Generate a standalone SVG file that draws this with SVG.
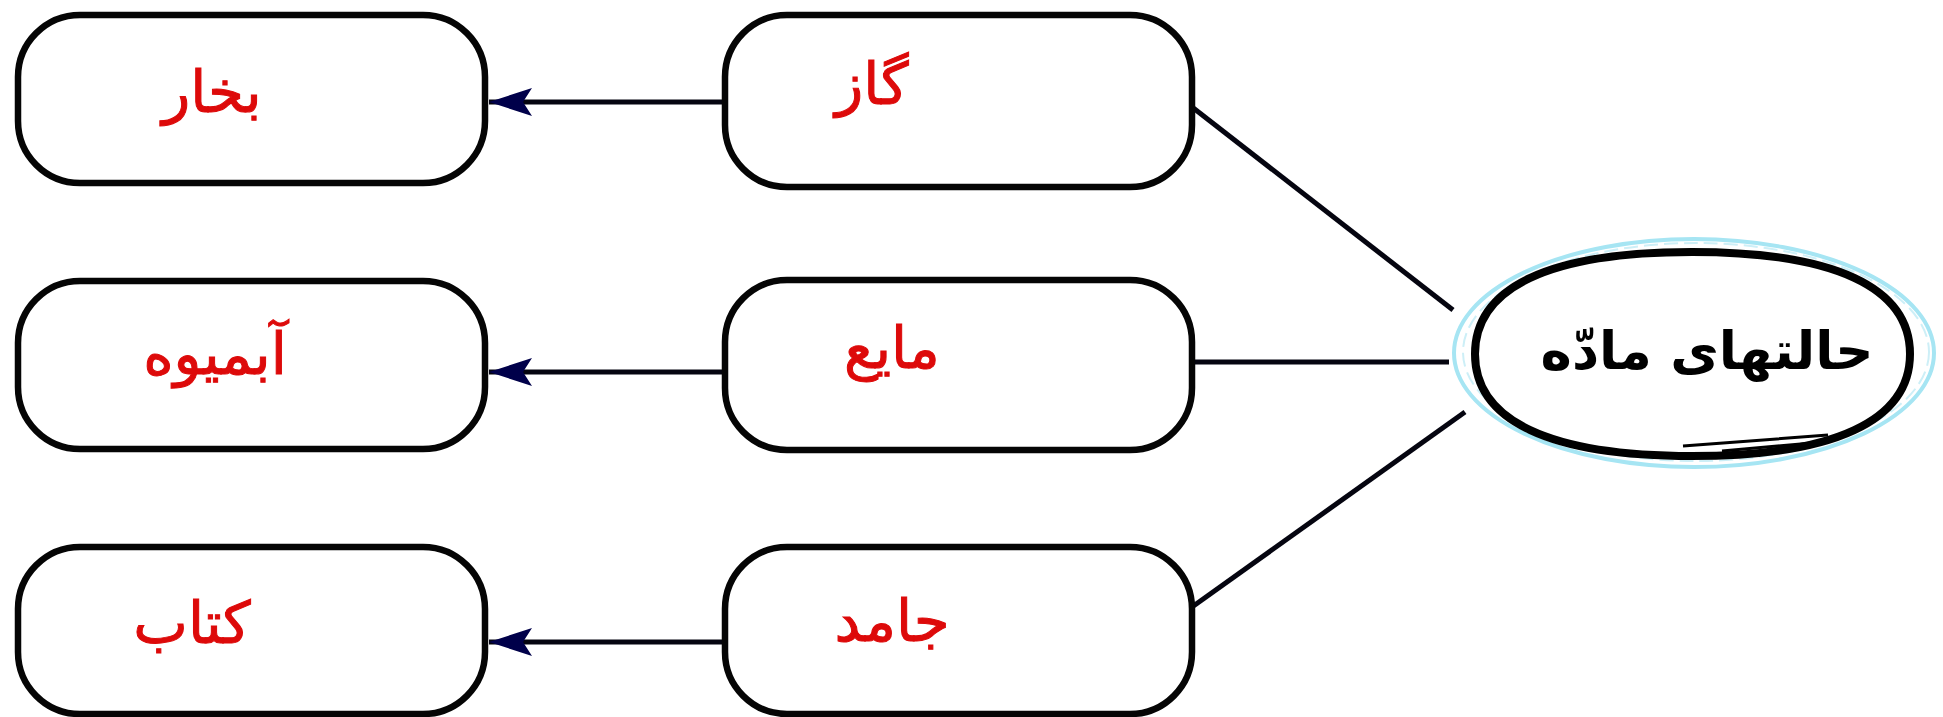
<svg xmlns="http://www.w3.org/2000/svg" width="1943" height="717" viewBox="0 0 1943 717">
<defs>
<style>
.box{fill:#fff;stroke:#050505;stroke-width:6.5}
.lbl{font-family:"DejaVu Sans",sans-serif;font-size:58px;fill:#dd0a0a;stroke:#dd0a0a;stroke-width:1;text-anchor:middle;direction:rtl}
.title{font-family:"DejaVu Sans",sans-serif;font-weight:bold;font-size:53px;fill:#000;text-anchor:middle;direction:rtl}
.con{stroke:#050510;stroke-width:5;fill:none}
.arr{stroke:#050510;stroke-width:5;fill:none;marker-end:url(#ah)}
</style>
<marker id="ah" markerWidth="44" markerHeight="30" refX="43" refY="15" orient="auto" markerUnits="userSpaceOnUse">
<path d="M43,15 L0,1 L9,15 L0,29 Z" fill="#00004a"/>
</marker>
</defs>
<rect width="1943" height="717" fill="#fff"/>
<g id="connectors">
<line class="con" x1="1192" y1="107" x2="1453" y2="310"/>
<line class="con" x1="1192" y1="362" x2="1449" y2="362"/>
<line class="con" x1="1192" y1="607" x2="1465" y2="412"/>
<line class="arr" x1="725" y1="102" x2="489" y2="102"/>
<line class="arr" x1="725" y1="372" x2="489" y2="372"/>
<line class="arr" x1="725" y1="642" x2="489" y2="642"/>
</g>
<g id="node-bokhar">
<rect class="box" x="18" y="15" width="467" height="168" rx="62" ry="62"/>
<text class="lbl" x="212" y="112">بخار</text>
</g>
<g id="node-abmiveh">
<rect class="box" x="18" y="281" width="467" height="168" rx="62" ry="62"/>
<text class="lbl" x="215" y="374">آبمیوه</text>
</g>
<g id="node-ketab">
<rect class="box" x="18" y="547" width="467" height="167" rx="62" ry="62"/>
<text class="lbl" x="192" y="643">کتاب</text>
</g>
<g id="node-gaz">
<rect class="box" x="725" y="15" width="467" height="172" rx="62" ry="62"/>
<text class="lbl" x="872" y="104">گاز</text>
</g>
<g id="node-mayeh">
<rect class="box" x="725" y="280" width="467" height="170" rx="62" ry="62"/>
<text class="lbl" x="892" y="368">مایع</text>
</g>
<g id="node-jamed">
<rect class="box" x="725" y="547" width="467" height="167" rx="62" ry="62"/>
<text class="lbl" x="892" y="641">جامد</text>
</g>
<g id="node-halat">
<ellipse cx="1694" cy="353" rx="240" ry="114" fill="none" stroke="#a6e5f3" stroke-width="4"/>
<ellipse cx="1696" cy="352" rx="233" ry="109" fill="none" stroke="#cdeff7" stroke-width="2" stroke-dasharray="14 6"/>
<path d="M1475,354 C1475,287 1550,252 1692,252 C1834,252 1910,287 1910,354 C1910,421 1834,456 1692,456 C1550,456 1475,421 1475,354 Z" fill="#fff" stroke="#000" stroke-width="8"/>
<path d="M1683,446 L1828,435 M1722,451 L1812,443" stroke="#000" stroke-width="3" fill="none"/>
<text class="title" x="1707" y="369">حالتهای مادّه</text>
</g>
</svg>
